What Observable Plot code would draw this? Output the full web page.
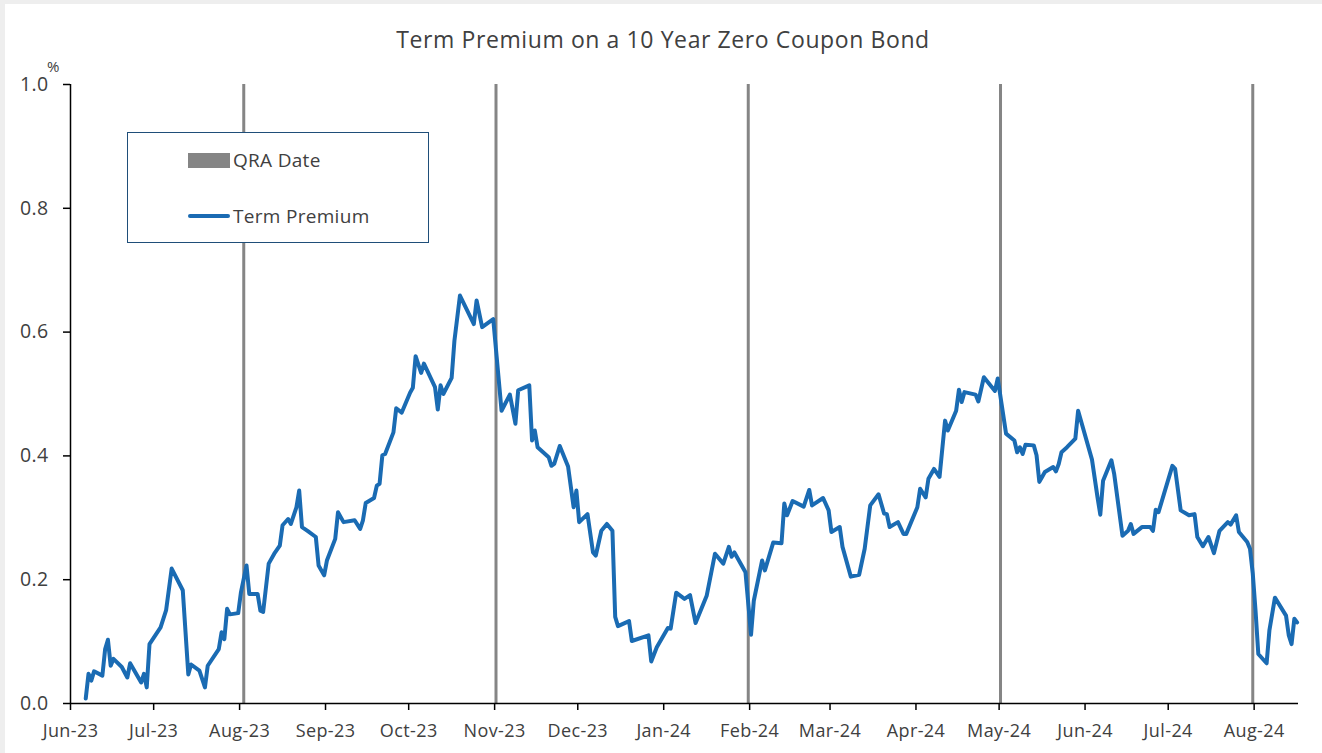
<!DOCTYPE html>
<html>
<head>
<meta charset="utf-8">
<script src="https://cdn.jsdelivr.net/npm/d3@7"></script>
<script src="https://cdn.jsdelivr.net/npm/@observablehq/plot@0.6"></script>
<style>
  html, body { margin: 0; padding: 0; background: #ffffff; }
  #wrap { position: relative; width: 1322px; height: 753px; overflow: hidden; background: #ffffff;
          font-family: "Open Sans", "Noto Sans", sans-serif; color: #404040; }
  #chart { position: absolute; left: 0; top: 0; }
  .edge { position: absolute; background: #eeeeee; }
  #title { position: absolute; left: 0; width: 1326px; top: 25px; text-align: center; font-size: 23px; letter-spacing: 0.6px; line-height: 28px; color: #404040; }
  #unit { position: absolute; left: 47px; top: 57px; font-size: 15px; line-height: 18px; color: #404040; }
  #legend { position: absolute; left: 127px; top: 132px; width: 300px; height: 109px; border: 1.6px solid #1f4e79; background: #ffffff; }
  .sw { position: absolute; }
  .lt { position: absolute; font-size: 19px; letter-spacing: 0.3px; line-height: 22px; color: #404040; white-space: nowrap; }
</style>
</head>
<body>
<div id="wrap">
  <div id="chart"></div>
  <div class="edge" style="left:0;top:0;width:5px;height:753px;"></div>
  <div class="edge" style="left:0;top:0;width:1322px;height:4px;"></div>
  <div id="title">Term Premium on a 10 Year Zero Coupon Bond</div>
  <div id="unit">%</div>
  <div id="legend">
    <div class="sw" style="left:60px;top:20px;width:42px;height:15px;background:#858585;"></div>
    <div class="lt" style="left:105px;top:16px;">QRA Date</div>
    <div class="sw" style="left:60px;top:81px;width:42px;height:4px;border-radius:2px;background:#1a6bb3;"></div>
    <div class="lt" style="left:105px;top:72px;">Term Premium</div>
  </div>
</div>
<script>
// Term premium on a 10-year zero coupon bond, %
const tp2023 = [
["2023-06-06",0.008],["2023-06-07",0.048],["2023-06-08",0.037],["2023-06-09",0.052],["2023-06-12",0.045],["2023-06-13",0.088],["2023-06-14",0.103],["2023-06-15",0.061],["2023-06-16",0.072],["2023-06-19",0.059],["2023-06-21",0.042],["2023-06-22",0.065],["2023-06-26",0.034],["2023-06-27",0.048],["2023-06-28",0.026],["2023-06-29",0.096],
["2023-07-03",0.123],["2023-07-05",0.151],["2023-07-07",0.218],["2023-07-11",0.183],["2023-07-13",0.047],["2023-07-14",0.063],["2023-07-17",0.053],["2023-07-19",0.026],["2023-07-20",0.061],["2023-07-24",0.088],["2023-07-25",0.115],["2023-07-26",0.104],["2023-07-27",0.153],["2023-07-28",0.144],["2023-07-31",0.146],
["2023-08-01",0.180],["2023-08-03",0.223],["2023-08-04",0.177],["2023-08-07",0.177],["2023-08-08",0.150],["2023-08-09",0.148],["2023-08-11",0.226],["2023-08-13",0.242],["2023-08-15",0.255],["2023-08-16",0.288],["2023-08-18",0.298],["2023-08-19",0.290],["2023-08-21",0.317],["2023-08-22",0.344],["2023-08-23",0.285],["2023-08-25",0.279],["2023-08-28",0.269],["2023-08-29",0.223],["2023-08-31",0.207],
["2023-09-01",0.231],["2023-09-04",0.266],["2023-09-05",0.309],["2023-09-07",0.293],["2023-09-11",0.296],["2023-09-13",0.282],["2023-09-14",0.296],["2023-09-15",0.324],["2023-09-18",0.332],["2023-09-19",0.352],["2023-09-20",0.355],["2023-09-21",0.401],["2023-09-22",0.403],["2023-09-25",0.438],["2023-09-26",0.477],["2023-09-28",0.470],
["2023-10-01",0.502],["2023-10-02",0.510],["2023-10-03",0.561],["2023-10-05",0.534],["2023-10-06",0.549],["2023-10-10",0.511],["2023-10-11",0.475],["2023-10-12",0.514],["2023-10-13",0.500],["2023-10-16",0.526],["2023-10-17",0.586],["2023-10-19",0.659],["2023-10-24",0.613],["2023-10-25",0.651],["2023-10-27",0.608],["2023-10-31",0.621],
["2023-11-03",0.473],["2023-11-06",0.499],["2023-11-08",0.452],["2023-11-09",0.506],["2023-11-13",0.514],["2023-11-14",0.425],["2023-11-15",0.441],["2023-11-16",0.414],["2023-11-20",0.398],["2023-11-21",0.384],["2023-11-22",0.387],["2023-11-24",0.416],["2023-11-27",0.383],["2023-11-29",0.317],["2023-11-30",0.344],
["2023-12-01",0.293],["2023-12-04",0.306],["2023-12-06",0.244],["2023-12-07",0.239],["2023-12-09",0.279],["2023-12-11",0.290],["2023-12-13",0.279],["2023-12-14",0.140],["2023-12-15",0.125],["2023-12-19",0.133],["2023-12-20",0.101],["2023-12-26",0.110],["2023-12-27",0.068],["2023-12-29",0.091]
];
const tp2024 = [
["2024-01-02",0.122],["2024-01-03",0.121],["2024-01-05",0.179],["2024-01-08",0.169],["2024-01-10",0.175],["2024-01-12",0.130],["2024-01-16",0.174],["2024-01-19",0.242],["2024-01-22",0.226],["2024-01-24",0.253],["2024-01-25",0.237],["2024-01-26",0.244],["2024-01-30",0.212],
["2024-02-01",0.111],["2024-02-02",0.166],["2024-02-05",0.231],["2024-02-06",0.215],["2024-02-09",0.260],["2024-02-12",0.259],["2024-02-13",0.323],["2024-02-14",0.304],["2024-02-16",0.327],["2024-02-20",0.318],["2024-02-22",0.345],["2024-02-23",0.320],["2024-02-27",0.332],["2024-02-29",0.312],
["2024-03-01",0.277],["2024-03-04",0.285],["2024-03-05",0.253],["2024-03-08",0.205],["2024-03-11",0.208],["2024-03-13",0.250],["2024-03-15",0.320],["2024-03-18",0.338],["2024-03-20",0.307],["2024-03-21",0.306],["2024-03-22",0.285],["2024-03-25",0.293],["2024-03-27",0.274],["2024-03-28",0.274],
["2024-04-01",0.317],["2024-04-02",0.347],["2024-04-04",0.333],["2024-04-05",0.363],["2024-04-07",0.379],["2024-04-09",0.366],["2024-04-11",0.457],["2024-04-12",0.441],["2024-04-15",0.473],["2024-04-16",0.507],["2024-04-17",0.487],["2024-04-18",0.503],["2024-04-22",0.499],["2024-04-23",0.488],["2024-04-25",0.527],["2024-04-29",0.505],["2024-04-30",0.525],
["2024-05-03",0.436],["2024-05-06",0.425],["2024-05-07",0.406],["2024-05-08",0.414],["2024-05-09",0.403],["2024-05-10",0.418],["2024-05-13",0.417],["2024-05-14",0.401],["2024-05-15",0.358],["2024-05-16",0.366],["2024-05-17",0.374],["2024-05-20",0.382],["2024-05-21",0.375],["2024-05-22",0.387],["2024-05-23",0.406],["2024-05-25",0.414],["2024-05-28",0.428],["2024-05-29",0.473],
["2024-06-03",0.394],["2024-06-05",0.333],["2024-06-06",0.305],["2024-06-07",0.360],["2024-06-10",0.393],["2024-06-11",0.371],["2024-06-14",0.271],["2024-06-16",0.279],["2024-06-17",0.290],["2024-06-18",0.274],["2024-06-21",0.285],["2024-06-24",0.285],["2024-06-25",0.279],["2024-06-26",0.313],["2024-06-27",0.309],["2024-06-29",0.339],
["2024-07-02",0.384],["2024-07-03",0.379],["2024-07-05",0.312],["2024-07-08",0.304],["2024-07-10",0.306],["2024-07-11",0.269],["2024-07-13",0.254],["2024-07-15",0.269],["2024-07-17",0.243],["2024-07-19",0.279],["2024-07-22",0.293],["2024-07-23",0.289],["2024-07-25",0.304],["2024-07-26",0.277],["2024-07-29",0.261],["2024-07-30",0.250],["2024-07-31",0.210],
["2024-08-01",0.150],["2024-08-02",0.080],["2024-08-05",0.065],["2024-08-06",0.118],["2024-08-08",0.171],["2024-08-12",0.142],["2024-08-13",0.110],["2024-08-14",0.096],["2024-08-15",0.137],["2024-08-16",0.131]
];
// Quarterly Refunding Announcement dates
const qraDates = ["2023-08-02", "2023-11-01", "2024-01-31", "2024-05-01", "2024-07-31"];
// Axis ticks
const xDomain = ["2023-06-01", "2024-08-17"];
const xTickMonths = ["2023-06-01","2023-07-01","2023-08-01","2023-09-01","2023-10-01","2023-11-01","2023-12-01",
                     "2024-01-01","2024-02-01","2024-03-01","2024-04-01","2024-05-01","2024-06-01","2024-07-01","2024-08-01"];
const yTicks = [0, 0.2, 0.4, 0.6, 0.8, 1.0];

const HALF_DAY = 12 * 3600 * 1000; // points sit at the middle of their day, as on an Excel date axis
const toDate = s => new Date(s + "T00:00:00Z");
const series = tp2023.concat(tp2024).map(([d, v]) => ({date: new Date(+toDate(d) + HALF_DAY), value: v}));
const qra = qraDates.map(d => new Date(+toDate(d) + HALF_DAY));

const fmtMonth = d3.utcFormat("%b-%y");

const chart = Plot.plot({
  width: 1322,
  height: 753,
  marginLeft: 70,
  marginRight: 24,
  marginTop: 84,
  marginBottom: 50,
  style: {fontFamily: "'Open Sans', 'Noto Sans', sans-serif", background: "transparent", color: "#404040", overflow: "visible", letterSpacing: "0.4px"},
  x: {type: "utc", domain: xDomain.map(toDate)},
  y: {domain: [0, 1]},
  marks: [
    Plot.ruleX(qra, {stroke: "#858585", strokeWidth: 3}),
    Plot.lineY(series, {x: "date", y: "value", stroke: "#1a6bb3", strokeWidth: 4, strokeLinejoin: "round", strokeLinecap: "round"}),
    Plot.ruleY([0], {stroke: "#000000", strokeWidth: 1.5}),
    Plot.ruleX([toDate(xDomain[0])], {stroke: "#000000", strokeWidth: 1.5}),
    Plot.axisY({ticks: yTicks, tickFormat: d => d.toFixed(1), tickSize: 7, tickPadding: 15, fontSize: 19.5,
                stroke: "#000000", strokeWidth: 1.5, fill: "#404040", label: null}),
    Plot.axisX({ticks: xTickMonths.map(toDate), tickFormat: fmtMonth, tickSize: 7, tickPadding: 14, fontSize: 18,
                stroke: "#000000", strokeWidth: 1.5, fill: "#404040", label: null})
  ]
});
document.getElementById("chart").appendChild(chart);
</script>
</body>
</html>
